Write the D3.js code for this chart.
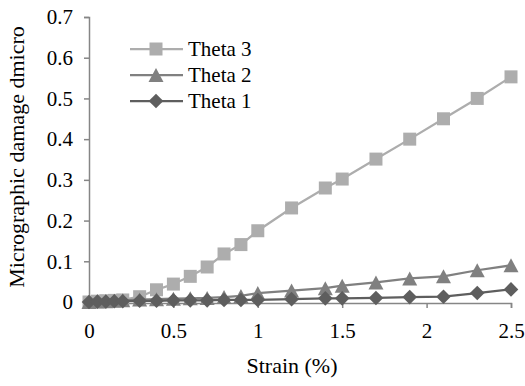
<!DOCTYPE html>
<html>
<head>
<meta charset="utf-8">
<script src="https://cdn.jsdelivr.net/npm/d3@7"></script>
<style>
  html, body { margin: 0; padding: 0; background: #fff; }
  svg { display: block; }
  svg text { font-family: "Liberation Serif", "Times New Roman", serif; fill: #000; }
</style>
</head>
<body>
<svg id="chart" width="525" height="386"></svg>
<script>
// ---- data ----
const strain = [0, 0.05, 0.1, 0.15, 0.2, 0.3, 0.4, 0.5, 0.6, 0.7, 0.8, 0.9, 1.0, 1.2, 1.4, 1.5, 1.7, 1.9, 2.1, 2.3, 2.5];
const theta3 = [0, 0.002, 0.003, 0.004, 0.005, 0.013, 0.03, 0.044, 0.063, 0.086, 0.118, 0.141, 0.175, 0.231, 0.28, 0.302, 0.351, 0.40, 0.45, 0.50, 0.553];
const theta2 = [0, 0.001, 0.002, 0.003, 0.004, 0.006, 0.007, 0.008, 0.009, 0.01, 0.012, 0.015, 0.022, 0.028, 0.034, 0.04, 0.048, 0.058, 0.063, 0.078, 0.09];
const theta1 = [0, 0.001, 0.001, 0.002, 0.002, 0.003, 0.003, 0.004, 0.004, 0.004, 0.005, 0.005, 0.005, 0.007, 0.009, 0.009, 0.01, 0.012, 0.013, 0.022, 0.031];
const seriesNames = ["Theta 3", "Theta 2", "Theta 1"];
const xTicks = [0, 0.5, 1, 1.5, 2, 2.5];
const xTickLabels = ["0", "0.5", "1", "1.5", "2", "2.5"];
const yTicks = [0, 0.1, 0.2, 0.3, 0.4, 0.5, 0.6, 0.7];
const yTickLabels = ["0", "0.1", "0.2", "0.3", "0.4", "0.5", "0.6", "0.7"];
const xTitle = "Strain (%)";
const yTitle = "Micrographic damage dmicro";

// ---- setup ----
const FONT = "Liberation Serif";
const svg = d3.select("#chart");
const x = d3.scaleLinear().domain([0, 2.5]).range([89, 511]);
const y = d3.scaleLinear().domain([0, 0.7]).range([302, 17]);
const axisColor = "#868686";

const series = [
  { name: seriesNames[0], values: theta3, color: "#adadad", marker: "square" },
  { name: seriesNames[1], values: theta2, color: "#808080", marker: "triangle" },
  { name: seriesNames[2], values: theta1, color: "#5e5e5e", marker: "diamond" }
];

function markerPath(type) {
  if (type === "square") return "M-6.5,-6.5H6.5V6.5H-6.5Z";
  if (type === "triangle") return "M0,-7L7.5,7L-7.5,7Z";
  return "M0,-7.3L7.3,0L0,7.3L-7.3,0Z";
}

// ---- axes ----
const yAxis = d3.axisLeft(y).tickValues(yTicks).tickFormat((d, i) => yTickLabels[i]).tickSize(5).tickPadding(11);
const gy = svg.append("g").attr("transform", `translate(${x(0)},0)`).call(yAxis)
  .attr("font-family", FONT).attr("font-size", 21);
gy.select(".domain").attr("stroke", axisColor).attr("stroke-width", 1.5);
gy.selectAll(".tick line").attr("stroke", axisColor).attr("stroke-width", 1.5);
gy.selectAll(".tick text").style("font-size", "21px").style("font-family", FONT).attr("fill", "#000");

const xAxis = d3.axisBottom(x).tickValues(xTicks).tickFormat((d, i) => xTickLabels[i]).tickSize(5).tickPadding(15);
const gx = svg.append("g").attr("transform", `translate(0,${y(0) + 1})`).call(xAxis)
  .attr("font-family", FONT).attr("font-size", 21);
gx.select(".domain").attr("stroke", axisColor).attr("stroke-width", 1.5);
gx.selectAll(".tick line").attr("stroke", axisColor).attr("stroke-width", 1.5);
gx.selectAll(".tick text").style("font-size", "21px").style("font-family", FONT).attr("fill", "#000");

// titles
svg.append("text").attr("x", 292).attr("y", 373).attr("text-anchor", "middle")
  .style("font-family", FONT).style("font-size", "22px").text(xTitle);
svg.append("text").attr("transform", "translate(24,157) rotate(-90)").attr("text-anchor", "middle")
  .style("font-family", FONT).style("font-size", "22px").text(yTitle);

// ---- series ----
const line = d3.line().x((d, i) => x(strain[i])).y(d => y(d));
series.forEach(s => {
  const g = svg.append("g");
  g.append("path").attr("d", line(s.values)).attr("fill", "none")
    .attr("stroke", s.color).attr("stroke-width", 2.25).attr("stroke-linejoin", "round");
  g.selectAll("path.m").data(s.values).enter().append("path").attr("class", "m")
    .attr("transform", (d, i) => `translate(${x(strain[i])},${y(d)})`)
    .attr("d", markerPath(s.marker)).attr("fill", s.color);
});

// ---- legend ----
const legendRows = [49, 75, 101];
series.forEach((s, i) => {
  const g = svg.append("g").attr("transform", `translate(0,${legendRows[i]})`);
  g.append("line").attr("x1", 130).attr("x2", 183).attr("y1", 0).attr("y2", 0)
    .attr("stroke", s.color).attr("stroke-width", 2.25);
  g.append("path").attr("transform", "translate(156,0)").attr("d", markerPath(s.marker)).attr("fill", s.color);
  g.append("text").attr("x", 188).attr("y", 0).attr("dy", "0.33em")
    .style("font-family", FONT).style("font-size", "21px").text(s.name);
});
</script>
</body>
</html>
